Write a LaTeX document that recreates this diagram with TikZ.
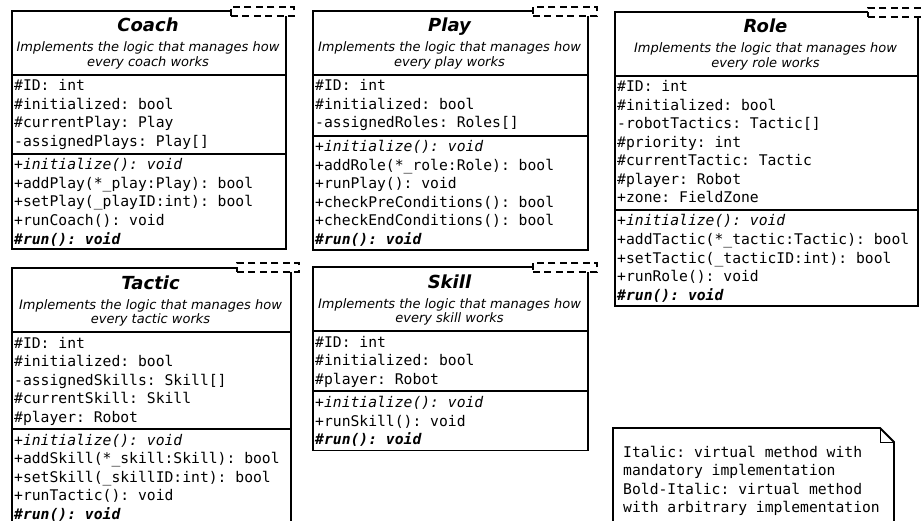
\documentclass[tikz,border=0pt]{standalone}
\usepackage{fontspec}
\setmainfont{DejaVu Sans}
\setmonofont{DejaVu Sans Mono}
\begin{document}
\begin{tikzpicture}[x=1pt,y=-1pt,
  comp/.style={draw, line width=1.8pt, fill=white, inner sep=0pt, anchor=north west},
  tpl/.style={draw, line width=1.8pt, dash pattern=on 7pt off 4.5pt, fill=white, inner sep=0pt, anchor=north west, minimum height=9.5pt},
  ctitle/.style={font=\fontsize{18}{20}\selectfont\bfseries\itshape, anchor=base, inner sep=0pt},
  cdesc/.style={font=\fontsize{13}{14.5}\selectfont\itshape, anchor=base, inner sep=0pt},
  member/.style={font=\fontsize{14.7}{18.5}\selectfont\ttfamily, anchor=base west, inner sep=0pt},
  virt/.style={member, font=\fontsize{14.7}{18.5}\selectfont\ttfamily\itshape},
  bvirt/.style={member, font=\fontsize{14.7}{18.5}\selectfont\ttfamily\bfseries\itshape},
  notebox/.style={draw, line width=1.8pt, fill=white},
  fold/.style={draw, line width=0.9pt}
]
\useasboundingbox (0,0) rectangle (923,521);

% ---------------- Coach ----------------
\node[comp, minimum width=274pt, minimum height=64pt] (coachHead) at (11,10) {};
\node[comp, minimum width=274pt, minimum height=79pt] (coachAttr) at (11,74) {};
\node[comp, minimum width=274pt, minimum height=95.5pt] (coachOps) at (11,153) {};
\node[tpl, minimum width=63pt] (coachTpl) at (230,6) {};
\node[ctitle] (coachTitle) at (148,32) {Coach};
\node[cdesc] (coachD1) at (148,52) {Implements the logic that manages how};
\node[cdesc] (coachD2) at (148,66.5) {every coach works};
\foreach \t [count=\i] in {{\#ID: int},{\#initialized: bool},{\#currentPlay: Play},{-assignedPlays: Play[]}}
  \node[member] (coachA\i) at (14,{91+18.5*(\i-1)}) {\t};
\node[virt] (coachM1) at (14,170) {+initialize(): void};
\foreach \t [count=\i] in {{+addPlay(*\_play:Play): bool},{+setPlay(\_playID:int): bool},{+runCoach(): void}}
  \node[member] (coachM\i x) at (14,{188.5+18.5*(\i-1)}) {\t};
\node[bvirt] (coachM5) at (14,244) {\#run(): void};

% ---------------- Play ----------------
\node[comp, minimum width=275pt, minimum height=64pt] (playHead) at (312,10) {};
\node[comp, minimum width=275pt, minimum height=61pt] (playAttr) at (312,74) {};
\node[comp, minimum width=275pt, minimum height=114pt] (playOps) at (312,135) {};
\node[tpl, minimum width=64pt] (playTpl) at (532,6) {};
\node[ctitle] (playTitle) at (449.5,32) {Play};
\node[cdesc] (playD1) at (449.5,52) {Implements the logic that manages how};
\node[cdesc] (playD2) at (449.5,66.5) {every play works};
\foreach \t [count=\i] in {{\#ID: int},{\#initialized: bool},{-assignedRoles: Roles[]}}
  \node[member] (playA\i) at (315,{91+18.5*(\i-1)}) {\t};
\node[virt] (playM1) at (315,152) {+initialize(): void};
\foreach \t [count=\i] in {{+addRole(*\_role:Role): bool},{+runPlay(): void},{+checkPreConditions(): bool},{+checkEndConditions(): bool}}
  \node[member] (playM\i x) at (315,{170.5+18.5*(\i-1)}) {\t};
\node[bvirt] (playM6) at (315,244.5) {\#run(): void};

% ---------------- Role ----------------
\node[comp, minimum width=303pt, minimum height=64pt] (roleHead) at (614,11) {};
\node[comp, minimum width=303pt, minimum height=134pt] (roleAttr) at (614,75) {};
\node[comp, minimum width=303pt, minimum height=96pt] (roleOps) at (614,209) {};
\node[tpl, minimum width=62pt] (roleTpl) at (867,7) {};
\node[ctitle] (roleTitle) at (765.5,33) {Role};
\node[cdesc] (roleD1) at (765.5,53) {Implements the logic that manages how};
\node[cdesc] (roleD2) at (765.5,67.5) {every role works};
\foreach \t [count=\i] in {{\#ID: int},{\#initialized: bool},{-robotTactics: Tactic[]},{\#priority: int},{\#currentTactic: Tactic},{\#player: Robot},{+zone: FieldZone}}
  \node[member] (roleA\i) at (617,{92+18.5*(\i-1)}) {\t};
\node[virt] (roleM1) at (617,226) {+initialize(): void};
\foreach \t [count=\i] in {{+addTactic(*\_tactic:Tactic): bool},{+setTactic(\_tacticID:int): bool},{+runRole(): void}}
  \node[member] (roleM\i x) at (617,{244.5+18.5*(\i-1)}) {\t};
\node[bvirt] (roleM5) at (617,300) {\#run(): void};

% ---------------- Tactic ----------------
\node[comp, minimum width=279pt, minimum height=64pt] (tacticHead) at (11,267) {};
\node[comp, minimum width=279pt, minimum height=97pt] (tacticAttr) at (11,331) {};
\node[comp, minimum width=279pt, minimum height=96pt] (tacticOps) at (11,428) {};
\node[tpl, minimum width=62pt] (tacticTpl) at (236,262) {};
\node[ctitle] (tacticTitle) at (150.5,289) {Tactic};
\node[cdesc] (tacticD1) at (150.5,309) {Implements the logic that manages how};
\node[cdesc] (tacticD2) at (150.5,323.5) {every tactic works};
\foreach \t [count=\i] in {{\#ID: int},{\#initialized: bool},{-assignedSkills: Skill[]},{\#currentSkill: Skill},{\#player: Robot}}
  \node[member] (tacticA\i) at (14,{348+18.5*(\i-1)}) {\t};
\node[virt] (tacticM1) at (14,445) {+initialize(): void};
\foreach \t [count=\i] in {{+addSkill(*\_skill:Skill): bool},{+setSkill(\_skillID:int): bool},{+runTactic(): void}}
  \node[member] (tacticM\i x) at (14,{463.5+18.5*(\i-1)}) {\t};
\node[bvirt] (tacticM5) at (14,519) {\#run(): void};

% ---------------- Skill ----------------
\node[comp, minimum width=275pt, minimum height=64pt] (skillHead) at (312,266) {};
\node[comp, minimum width=275pt, minimum height=60pt] (skillAttr) at (312,330) {};
\node[comp, minimum width=275pt, minimum height=59.5pt] (skillOps) at (312,390) {};
\node[tpl, minimum width=64pt] (skillTpl) at (532,262) {};
\node[ctitle] (skillTitle) at (449.5,288) {Skill};
\node[cdesc] (skillD1) at (449.5,308) {Implements the logic that manages how};
\node[cdesc] (skillD2) at (449.5,322.5) {every skill works};
\foreach \t [count=\i] in {{\#ID: int},{\#initialized: bool},{\#player: Robot}}
  \node[member] (skillA\i) at (315,{347+18.5*(\i-1)}) {\t};
\node[virt] (skillM1) at (315,407.5) {+initialize(): void};
\node[member] (skillM2) at (315,426) {+runSkill(): void};
\node[bvirt] (skillM3) at (315,444.5) {\#run(): void};

% ---------------- Note ----------------
\draw[notebox] (613,428) -- (880,428) -- (894,442) -- (894,535) -- (613,535) -- cycle;
\draw[fold] (880,428) -- (880,442) -- (894,442);
\foreach \t [count=\i] in {{Italic: virtual method with},{mandatory implementation},{Bold-Italic: virtual method},{with arbitrary implementation}}
  \node[member] (note\i) at (623,{457+18.5*(\i-1)}) {\t};
\end{tikzpicture}
\end{document}
